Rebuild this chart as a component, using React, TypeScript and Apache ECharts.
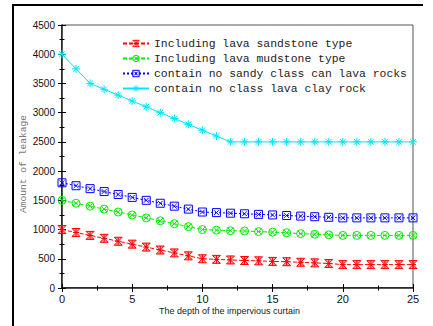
import React, { useEffect, useRef } from "react";
import * as echarts from "echarts";

const depths = [0,1,2,3,4,5,6,7,8,9,10,11,12,13,14,15,16,17,18,19,20,21,22,23,24,25];
const sandstone = [1000,950,900,850,800,750,700,650,600,550,500,490,480,470,465,455,450,440,430,420,400,400,400,400,400,400];
const mudstone = [1500,1450,1400,1350,1300,1250,1200,1150,1100,1050,1000,990,980,975,965,955,945,930,920,910,900,900,900,900,900,900];
const noSandy = [1800,1750,1700,1650,1600,1550,1500,1450,1400,1350,1300,1290,1280,1270,1260,1250,1240,1230,1220,1210,1200,1200,1200,1200,1200,1200];
const noClay = [4000,3750,3500,3400,3300,3200,3100,3000,2900,2800,2700,2600,2500,2500,2500,2500,2500,2500,2500,2500,2500,2500,2500,2500,2500,2500];
const seriesNames = [
  "Including lava sandstone type",
  "Including lava mudstone type",
  "contain no sandy class can lava rocks",
  "contain no class lava clay rock",
];

const SYM_RED = "path://M1,1L9,1L1,9L9,9ZM5,1L5,9M2,5L8,5";
const SYM_GREEN = "path://M0,5A5,5 0 1,0 10,5A5,5 0 1,0 0,5ZM1.5,1.5L8.5,8.5M1.5,8.5L8.5,1.5";
const SYM_BLUE = "path://M0,0L10,0L10,10L0,10ZM2,2L8,8M2,8L8,2";
const SYM_CYAN = "path://M0,5L10,5M5,0L5,10M1.5,1.5L8.5,8.5M1.5,8.5L8.5,1.5";

export default function App() {
  const ref = useRef<HTMLDivElement>(null);
  useEffect(() => {
    document.body.style.margin = "0";
    const chart = echarts.init(ref.current!, null, { renderer: "svg" });
    const mk = (name: string, data: number[], color: string, sym: string, type: any, fillC: string) => ({
      name,
      type: "line",
      data: depths.map((d, i) => [d, data[i]]),
      symbol: sym,
      symbolSize: 8,
      showAllSymbol: true,
      lineStyle: { color, width: 1, type },
      itemStyle: { color: fillC, borderColor: color, borderWidth: 1 },
      emphasis: { disabled: true },
      z: 3,
    });
    const axisCommon = {
      type: "value",
      axisLine: { show: true, lineStyle: { color: "#000", width: 1.5 } },
      axisTick: { show: true, inside: true, length: 4, lineStyle: { color: "#000" } },
      minorTick: { show: true, splitNumber: 2, length: 2.5, lineStyle: { color: "#000" } },
      splitLine: { show: false },
    };
    chart.setOption({
      animation: false,
      grid: { left: 62, top: 25, right: 20, bottom: 38, show: true, borderColor: "#555", borderWidth: 1 },
      legend: {
        orient: "vertical",
        left: 122,
        top: 37,
        padding: 0,
        itemWidth: 26,
        itemHeight: 8,
        itemGap: 2,
        data: seriesNames,
        itemStyle: { color: "rgba(0,0,0,0)", borderWidth: 1 },
        textStyle: { fontFamily: "Liberation Mono", fontSize: 11.4, color: "#222", lineHeight: 13 },
      },
      xAxis: [
        {
          ...axisCommon,
          min: 0, max: 25, interval: 5,
          axisLabel: { fontFamily: "Liberation Sans", fontSize: 11, color: "#111", margin: 5 },
        },
        {
          ...axisCommon,
          position: "top",
          min: 0, max: 25, interval: 5,
          axisLine: { show: true, lineStyle: { color: "#555", width: 1 } },
          axisLabel: { show: false },
        },
      ],
      yAxis: [
        {
          ...axisCommon,
          min: 0, max: 4500, interval: 500,
          axisLabel: { fontFamily: "Liberation Sans", fontSize: 10, color: "#111", margin: 7, formatter: (v: number) => String(v) },
        },
        {
          ...axisCommon,
          position: "right",
          min: 0, max: 4500, interval: 500,
          axisLine: { show: true, lineStyle: { color: "#555", width: 1 } },
          axisLabel: { show: false },
        },
      ],
      graphic: [
        { type: "rect", shape: { x: 12, y: 4, width: 411, height: 2 }, style: { fill: "#000" } },
        { type: "rect", shape: { x: 12, y: 4, width: 2, height: 322 }, style: { fill: "#000" } },
        {
          type: "text", x: 229.5, y: 311,
          style: { text: "The depth of the impervious curtain", font: "9px 'Liberation Sans'", fill: "#222", textAlign: "center", textVerticalAlign: "middle" },
        },
        {
          type: "text", x: 23, y: 164, rotation: Math.PI / 2,
          style: { text: "Amount of leakage", font: "9.6px 'Liberation Mono'", fill: "#777", textAlign: "center", textVerticalAlign: "middle" },
        },
      ],
      series: [
        mk(seriesNames[0], sandstone, "#ff0000", SYM_RED, [4, 2], "rgba(255,0,0,0.35)"),
        mk(seriesNames[1], mudstone, "#00ee00", SYM_GREEN, [4, 2], "rgba(0,0,0,0)"),
        mk(seriesNames[2], noSandy, "#0000ff", SYM_BLUE, [2, 2], "rgba(0,0,0,0)"),
        mk(seriesNames[3], noClay, "#00e5ff", SYM_CYAN, "solid", "rgba(0,0,0,0)"),
      ],
    });
    return () => chart.dispose();
  }, []);
  return <div ref={ref} style={{ width: 433, height: 326 }} />;
}
